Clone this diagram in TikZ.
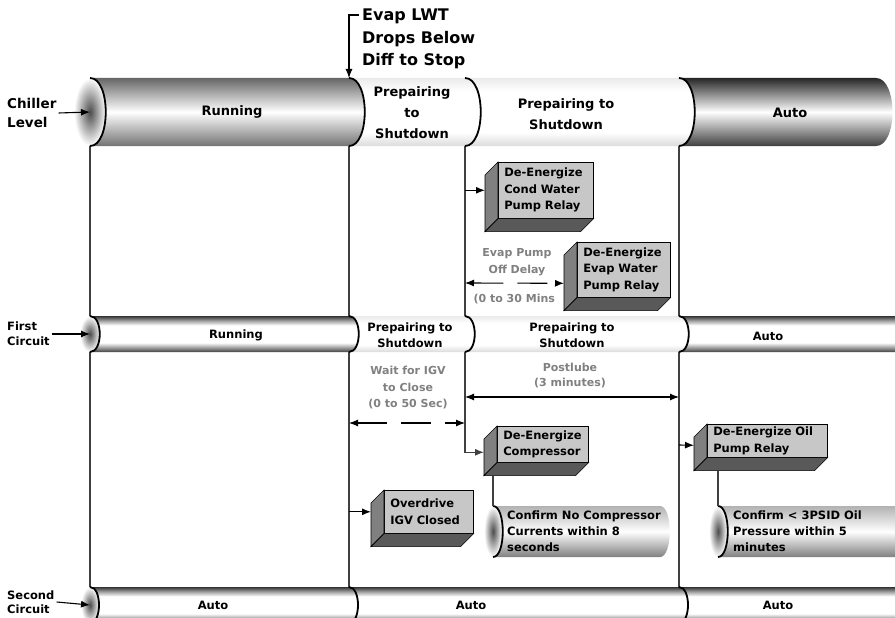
\documentclass[tikz,border=0pt]{standalone}
\usepackage{fontspec}
\setmainfont{DejaVu Sans}
\usetikzlibrary{arrows.meta,positioning,shapes.geometric}

\pgfdeclareverticalshading{band}{100bp}{color(0bp)=(black!75); color(25bp)=(black!75); color(30bp)=(black!45); color(38bp)=(white); color(62bp)=(white); color(69bp)=(black!40); color(75bp)=(black!80); color(100bp)=(black!80)}
\pgfdeclareverticalshading{faint}{100bp}{color(0bp)=(black!14); color(25bp)=(black!14); color(35bp)=(white); color(65bp)=(white); color(75bp)=(black!8); color(100bp)=(black!8)}

% one piece of a tube: x0, x1, top, bottom, bulge, look
\newcommand{\cylseg}[6]{%
  \path[#6] (#1,#3) .. controls +(#5,0) and +(#5,0) .. (#1,#4) -- (#2,#4)
    .. controls +(#5,0) and +(#5,0) .. (#2,#3) -- cycle;}
% black end of a tube piece: x, top, bottom, bulge
\newcommand{\cylrim}[4]{%
  \draw[rim] (#1,#2) .. controls +(#4,0) and +(#4,0) .. (#1,#3);}
% side and bottom faces of a relay box
\newcommand{\boxdepth}[1]{%
  \filldraw[fill=black!50, line width=0.6pt] (#1.north west) -- ++(-13,13)
    -- ([shift={(-13,13)}]#1.south west) -- (#1.south west) -- cycle;
  \filldraw[fill=black!65, line width=0.6pt] (#1.south west) -- ([shift={(-13,13)}]#1.south west)
    -- ([shift={(-13,13)}]#1.south east) -- (#1.south east) -- cycle;}

\begin{document}
\begin{tikzpicture}[x=1pt, y=-1pt,
		vline/.style={draw=black!75, line width=1.3pt},
		rim/.style={line width=1.8pt},
		arr/.style={-{Latex[length=9pt,width=7pt]}, line width=1.1pt},
		darr/.style={{Latex[length=9pt,width=7pt]}-{Latex[length=9pt,width=7pt]}, line width=1.1pt, dash pattern=on 30pt off 14pt},
		sarr/.style={{Latex[length=9pt,width=7pt]}-{Latex[length=9pt,width=7pt]}, line width=1.1pt},
		toprow/.style={font=\bfseries\fontsize{13}{21}\selectfont, align=center},
		midrow/.style={font=\bfseries\fontsize{11.5}{16}\selectfont, align=center},
		side/.style={font=\bfseries\fontsize{13.5}{19}\selectfont, align=left, anchor=west, inner sep=2pt},
		note/.style={font=\bfseries\fontsize{11}{16.5}\selectfont, text=black!50, align=center},
		relay/.style={draw, line width=0.6pt, fill=black!22, anchor=north west, align=left, inner xsep=6pt, inner ysep=2pt, font=\bfseries\fontsize{11.5}{16.5}\selectfont},
		confirmtxt/.style={font=\bfseries\fontsize{11.5}{16}\selectfont, align=left, anchor=west, inner sep=2pt},
		endcap/.style={ellipse, inner sep=0pt, inner color=black!70, outer color=white},
		toprun/.style={top color=black!60, bottom color=black!55, middle color=white},
		topauto/.style={top color=black!85, bottom color=black!75, middle color=white},
		dark/.style={shade, shading=band},
		pale/.style={shade, shading=faint},
		confirm/.style={top color=black!30, bottom color=black!50, middle color=white}
	]
	\useasboundingbox (0,0) rectangle (895,618);
	\clip (0,0) rectangle (895,618);

	% relay boxes
	\node[relay, text width=83pt, minimum height=56pt] (cond) at (498,162) {De-Energize\\Cond Water\\Pump Relay};
	\node[relay, text width=81pt, minimum height=55pt] (ew) at (577,242) {De-Energize\\Evap Water\\Pump Relay};
	\node[relay, text width=79pt, minimum height=36pt] (cmp) at (497,426) {De-Energize\\Compressor};
	\node[relay, text width=108pt, minimum height=33pt] (oil) at (707,424) {De-Energize Oil\\Pump Relay};
	\node[relay, text width=77pt, minimum height=43pt] (ovr) at (384,490) {Overdrive\\IGV Closed};
	\foreach \b in {cond,ew,cmp,oil,ovr} {\boxdepth{\b}}

	% time lines
	\coordinate (l1) at (90,146);
	\coordinate (l2) at (349,146);
	\coordinate (l3) at (465,146);
	\coordinate (l4) at (679,146);
	\coordinate (b1) at (90,587);
	\coordinate (b2) at (349,587);
	\coordinate (b4) at (679,587);
	\draw[vline] (l1) -- (b1);
	\draw[vline] (l2) -- (b2);
	\draw[vline] (l4) -- (b4);
	\draw[vline, arr] (l3) |- ([xshift=-13pt,yshift=-8pt]cmp.west);

	% chiller level
	\node[endcap, minimum width=32pt, minimum height=68pt] (cap1) at (90,112) {};
	\cylseg{90}{349}{78}{146}{20}{toprun}
	\cylseg{349}{465}{78}{146}{20}{pale}
	\cylseg{465}{679}{78}{146}{22}{pale}
	\cylseg{679}{876}{78}{146}{22}{topauto}
	\foreach \x in {90,349,465,679} {\cylrim{\x}{78}{146}{21}}
	\node[toprow] (run1) at (232,112) {Running};
	\node[toprow] (prep1) at (412,113) {Prepairing\\to\\Shutdown};
	\node[toprow] (prep2) at (566,114) {Prepairing to\\Shutdown};
	\node[toprow] (auto1) at (790,113) {Auto};

	% first circuit
	\node[endcap, minimum width=20pt, minimum height=36pt] (cap2) at (90,334) {};
	\cylseg{90}{349}{316}{352}{13}{dark}
	\cylseg{349}{465}{316}{352}{13}{pale}
	\cylseg{465}{679}{316}{352}{13}{pale}
	\cylseg{679}{910}{316}{352}{13}{dark}
	\foreach \x in {90,349,465,679} {\cylrim{\x}{316}{352}{13}}
	\node[midrow] (run2) at (236,335) {Running};
	\node[midrow] (prep3) at (410,335) {Prepairing to\\Shutdown};
	\node[midrow] (prep4) at (572,335) {Prepairing to\\Shutdown};
	\node[midrow] (auto2) at (768,336) {Auto};

	% second circuit
	\node[endcap, minimum width=18pt, minimum height=36pt] (cap3) at (90,605) {};
	\cylseg{90}{349}{587}{623}{12}{dark}
	\cylseg{349}{679}{587}{623}{12}{dark}
	\cylseg{679}{910}{587}{623}{12}{dark}
	\foreach \x in {90,349,679} {\cylrim{\x}{587}{623}{12}}
	\node[midrow] (auto3) at (213,605) {Auto};
	\node[midrow] (auto4) at (471,605) {Auto};
	\node[midrow] (auto5) at (778,605) {Auto};

	% checks
	\node[endcap, minimum width=18pt, minimum height=51pt] (cf1cap) at (493,531.5) {};
	\cylseg{493}{660}{506}{557}{13}{confirm}
	\cylrim{493}{506}{557}{13}
	\node[endcap, minimum width=18pt, minimum height=51pt] (cf2cap) at (718,531.5) {};
	\cylseg{718}{910}{506}{557}{13}{confirm}
	\cylrim{718}{506}{557}{13}
	\node[confirmtxt] (cf1) at (505,531.5) {Confirm No Compressor\\Currents within 8\\seconds};
	\node[confirmtxt] (cf2) at (731,531.5) {Confirm < 3PSID Oil\\Pressure within 5\\minutes};
	\coordinate (cf1top) at (493,506);
	\coordinate (cf2top) at (718,506);
	\draw[vline] ([xshift=-4pt,yshift=-13pt]cmp.south west) -- (cf1top);
	\draw[vline] ([xshift=11pt,yshift=-13pt]oil.south west) -- (cf2top);

	% row labels
	\node[side] (chl) at (5,113) {Chiller\\Level};
	\node[side, font=\bfseries\fontsize{11.5}{15}\selectfont] (fc) at (5,334) {First\\Circuit};
	\node[side, font=\bfseries\fontsize{11.5}{14.5}\selectfont] (sc) at (5,602) {Second\\Circuit};
	\draw[arr] (chl.east) -- (cap1.center);
	\draw[arr] (fc.east) -- (cap2.center);
	\draw[arr] (sc.east) -- (cap3.center);

	% trigger
	\node[font=\bfseries\fontsize{16}{22.5}\selectfont, align=left, anchor=west, inner sep=1pt] (lwt) at (361,39) {Evap LWT\\Drops Below\\Diff to Stop};
	\coordinate (lwtA) at (359,15);
	\coordinate (stop) at (349,78);
	\draw[arr] (lwtA) -| (stop);

	% delays
	\node[note] (evdel) at (517,262) {Evap Pump\\Off Delay};
	\node[note, anchor=west] (evrng) at (470,299) {(0 to 30 Mins};
	\node[note] (igv) at (408,388) {Wait for IGV\\to Close\\(0 to 50 Sec)};
	\node[note, font=\bfseries\fontsize{11}{15}\selectfont] (post) at (570,376) {Postlube\\(3 minutes)};
	\coordinate (evL) at (465,283);
	\coordinate (igvL) at (349,423);
	\coordinate (igvR) at (465,423);
	\coordinate (postL) at (465,397);
	\coordinate (postR) at (679,397);
	\coordinate (oilL) at (679,445);
	\draw[darr] (evL) -- ([xshift=-13pt,yshift=-13.5pt]ew.west);
	\draw[darr] (igvL) -- (igvR);
	\draw[sarr] (postL) -- (postR);

	% starts
	\draw[arr] (cond.west -| l3) -- ([xshift=-13pt]cond.west);
	\draw[arr] (oilL) -- ([xshift=-13pt,yshift=-4.5pt]oil.west);
	\draw[arr] (ovr.west -| l2) -- ([xshift=-13pt]ovr.west);
\end{tikzpicture}
\end{document}
